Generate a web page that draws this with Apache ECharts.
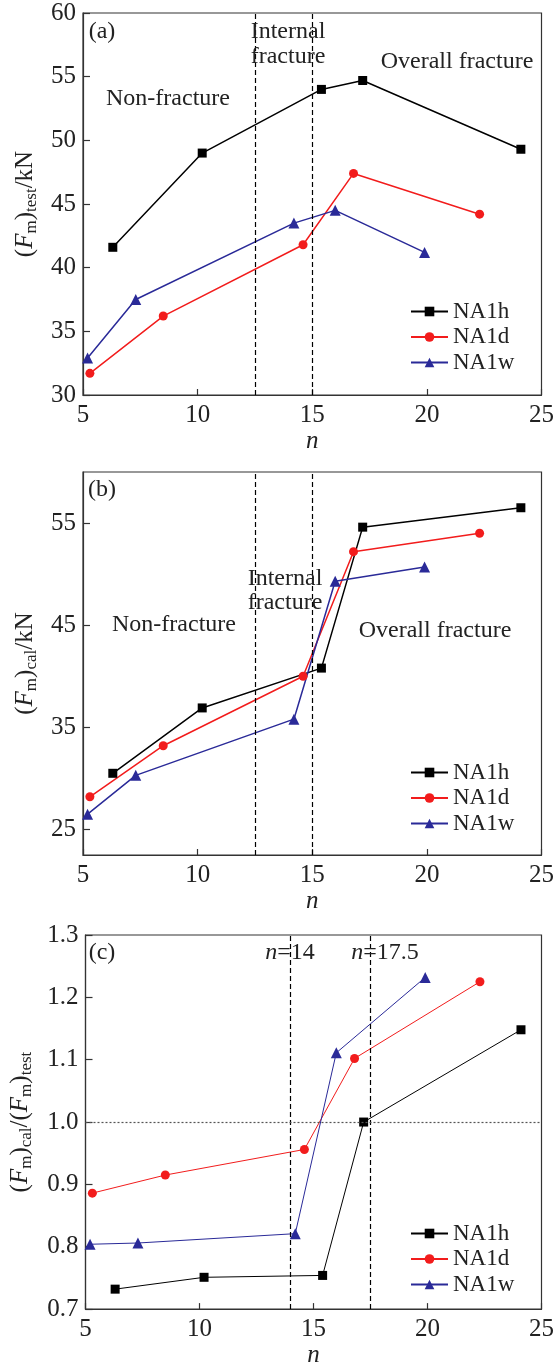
<!DOCTYPE html>
<html><head><meta charset="utf-8">
<script src="https://cdn.jsdelivr.net/npm/echarts@6/dist/echarts.min.js"></script>
<style>html,body{margin:0;padding:0;background:#fff}#c{width:557px;height:1369px}</style>
</head><body><div id="c"></div>
<script>
// ---- data ----
const seriesNames = ['NA1h', 'NA1d', 'NA1w'];
const xH = [6.3, 10.2, 15.4, 17.2, 24.1];
const xD = [5.3, 8.5, 14.6, 16.8, 22.3];
const xW = [5.2, 7.3, 14.2, 16.0, 19.9];
const testH = [41.6, 49.0, 54.0, 54.7, 49.3];
const testD = [31.7, 36.2, 41.8, 47.4, 44.2];
const testW = [32.9, 37.5, 43.5, 44.5, 41.2];
const calH = [30.5, 36.9, 40.8, 54.6, 56.5];
const calD = [28.2, 33.2, 40.0, 52.2, 54.0];
const calW = [26.5, 30.3, 35.8, 49.3, 50.7];
const ratioH = [0.732, 0.751, 0.754, 1.0, 1.148];
const ratioD = [0.886, 0.915, 0.956, 1.102, 1.225];
const ratioW = [0.804, 0.806, 0.821, 1.111, 1.232];
const xTicks = [5, 10, 15, 20, 25];
const yTicksB = [25, 35, 45, 55];
const regionLinesAB = [12.5, 15];
const regionLinesC = [14, 17.5];
const refLineC = 1.0;

// ---- styles ----
const FONT = 'Liberation Serif';
const colors = ['#000000', '#f21c1c', '#2a2a98'];
const symbols = ['rect', 'circle', 'triangle'];
const symSizes = [9, 9, 11];
const axisColor = '#333';

function zip(xs, ys) { return xs.map((x, i) => [x, ys[i]]); }

const gridTops = [13, 472, 935];
const gridHeights = [382, 383, 382];
const grids = gridTops.map((t, i) => ({
  left: 83, width: 464, top: t, height: gridHeights[i],
  show: true, borderColor: axisColor, borderWidth: 1.2, backgroundColor: 'transparent'
}));

const xAxes = gridTops.map((t, i) => ({
  type: 'value', gridIndex: i, min: 5, max: 25, interval: 5,
  name: 'n', nameLocation: 'middle', nameGap: 30,
  nameTextStyle: { fontFamily: FONT, fontStyle: 'italic', fontSize: 25, color: '#222' },
  axisLine: { show: true, lineStyle: { color: axisColor, width: 1.2 } },
  axisTick: { show: true, inside: true, length: 6, lineStyle: { color: axisColor, width: 1.2 } },
  axisLabel: { fontFamily: FONT, fontSize: 25, color: '#222', margin: 8 },
  splitLine: { show: false }
}));

const subRich = {
  p: { fontFamily: FONT, fontSize: 25, color: '#222', lineHeight: 30 },
  i: { fontFamily: FONT, fontSize: 25, fontStyle: 'italic', color: '#222', lineHeight: 30 },
  s: { fontFamily: FONT, fontSize: 17, color: '#222', lineHeight: 16, verticalAlign: 'bottom' }
};

const yCommon = {
  type: 'value', nameLocation: 'middle', nameRotate: 90,
  axisLine: { show: true, lineStyle: { color: axisColor, width: 1.2 } },
  axisTick: { show: true, inside: true, length: 7, lineStyle: { color: axisColor, width: 1.2 } },
  axisLabel: { fontFamily: FONT, fontSize: 25, color: '#222', margin: 7 },
  splitLine: { show: false }
};

const yAxes = [
  Object.assign({}, yCommon, {
    gridIndex: 0, min: 30, max: 60, interval: 5,
    name: '{p|(}{i|F}{s|m}{p|)}{s|test}{p|/kN}', nameGap: 37,
    nameTextStyle: { rich: subRich }
  }),
  Object.assign({}, yCommon, {
    gridIndex: 1, min: 22.5, max: 60,
    name: '{p|(}{i|F}{s|m}{p|)}{s|cal}{p|/kN}', nameGap: 37,
    nameTextStyle: { rich: subRich },
    axisTick: Object.assign({}, yCommon.axisTick, { customValues: yTicksB }),
    axisLabel: Object.assign({}, yCommon.axisLabel, { customValues: yTicksB })
  }),
  Object.assign({}, yCommon, {
    gridIndex: 2, min: 0.7, max: 1.3, interval: 0.1,
    name: '{p|(}{i|F}{s|m}{p|)}{s|cal}{p|/(}{i|F}{s|m}{p|)}{s|test}', nameGap: 50,
    nameTextStyle: { rich: subRich },
    axisLabel: Object.assign({}, yCommon.axisLabel, { formatter: v => v.toFixed(1) })
  })
];

const dataSets = [
  [testH, testD, testW],
  [calH, calD, calW],
  [ratioH, ratioD, ratioW]
];
const xs = [xH, xD, xW];

const series = [];
dataSets.forEach((set, gi) => {
  set.forEach((ys, si) => {
    series.push({
      name: seriesNames[si], type: 'line', xAxisIndex: gi, yAxisIndex: gi,
      data: zip(xs[si], ys),
      symbol: symbols[si], symbolSize: symSizes[si],
      lineStyle: { color: colors[si], width: gi === 2 ? 1 : 1.5 },
      itemStyle: { color: colors[si] },
      emphasis: { disabled: true }, animation: false, z: 3
    });
  });
  const lines = (gi === 2 ? regionLinesC : regionLinesAB).map(v => ({
    xAxis: v, lineStyle: { type: [5, 3], color: '#000', width: 1.2 }
  }));
  if (gi === 2) lines.push({ yAxis: refLineC, lineStyle: { type: [2, 2], color: '#555', width: 1.2 } });
  series.push({
    type: 'line', xAxisIndex: gi, yAxisIndex: gi, data: [], silent: true,
    markLine: { symbol: ['none', 'none'], label: { show: false }, data: lines, animation: false, silent: true },
    z: 2
  });
});

const legendTops = [294, 755, 1216];
const legends = legendTops.map(t => ({
  data: seriesNames, orient: 'vertical', left: 405, top: t,
  itemWidth: 37, itemHeight: 12, itemGap: 0.5, selectedMode: false,
  textStyle: { fontFamily: FONT, fontSize: 23, color: '#222', lineHeight: 25 }
}));

function txt(x, y, text, extra) {
  return { type: 'text', x: x, y: y, z: 10, style: Object.assign({
    text: text, fill: '#222', font: '24px "' + FONT + '"', align: 'center', verticalAlign: 'middle'
  }, extra || {}) };
}
const nRich = {
  i: { fontFamily: FONT, fontStyle: 'italic', fontSize: 24, fill: '#222' },
  r: { fontFamily: FONT, fontSize: 24, fill: '#222' }
};

const graphics = [
  txt(102, 32, '(a)'),
  txt(288, 32, 'Internal'), txt(288, 57, 'fracture'),
  txt(168, 99, 'Non-fracture'),
  txt(457, 62, 'Overall fracture'),
  txt(102, 490, '(b)'),
  txt(285, 579, 'Internal'), txt(285, 603, 'fracture'),
  txt(174, 625, 'Non-fracture'),
  txt(435, 631, 'Overall fracture'),
  txt(102, 953, '(c)'),
  { type: 'text', x: 290, y: 953, z: 10, style: { rich: nRich, text: '{i|n}{r|=14}', align: 'center', verticalAlign: 'middle' } },
  { type: 'text', x: 385, y: 953, z: 10, style: { rich: nRich, text: '{i|n}{r|=17.5}', align: 'center', verticalAlign: 'middle' } }
];

const chart = echarts.init(document.getElementById('c'), null, { renderer: 'canvas' });
chart.setOption({
  animation: false,
  backgroundColor: '#fff',
  grid: grids, xAxis: xAxes, yAxis: yAxes,
  legend: legends, series: series, graphic: graphics
});
</script></body></html>
